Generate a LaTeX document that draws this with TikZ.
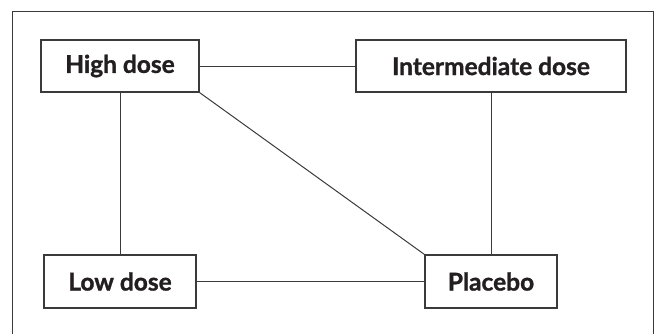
\documentclass[tikz,border=0pt]{standalone}
\usepackage{fontspec}
\setmainfont{Lato}[BoldFeatures={FakeBold=1.2}]
\definecolor{ln}{HTML}{3A3A3A}
\definecolor{tx}{HTML}{231F20}
\begin{document}
\begin{tikzpicture}[x=1pt,y=-1pt,
  dosebox/.style={draw=ln,line width=1.1pt,inner sep=0pt,font=\fontsize{24.5}{27}\selectfont\bfseries,text=tx},
  link/.style={draw=ln,line width=1pt}]
\useasboundingbox (0,0) rectangle (658,333);
\draw[link] (12,340) -- (12,11) -- (653,11) -- (653,340);
\node[dosebox,minimum width=158pt,minimum height=52pt] (high) at (120,66) {High dose};
\node[dosebox,minimum width=270pt,minimum height=52pt] (inter) at (491,66) {Intermediate dose};
\node[dosebox,minimum width=152pt,minimum height=53pt] (low) at (120,281.5) {Low dose};
\node[dosebox,minimum width=132pt,minimum height=53pt] (plac) at (491,281.5) {Placebo};
\draw[link] (high.east) -- (inter.west);
\draw[link] (high.south) -- (low.north);
\draw[link] (inter.south) -- (plac.north);
\draw[link] (low.east) -- (plac.west);
\draw[link] (high.south east) -- (plac.north west);
\end{tikzpicture}
\end{document}
